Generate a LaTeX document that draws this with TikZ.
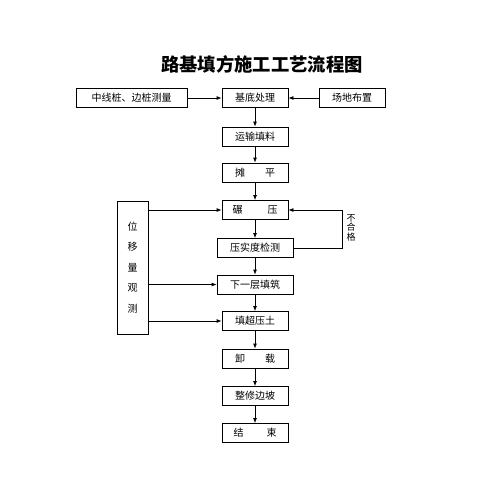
\documentclass[tikz,border=0pt]{standalone}
\usepackage{fontspec}
\setmainfont{Noto Sans CJK SC}
\usetikzlibrary{arrows.meta,positioning}
\tikzset{
    stepbox/.style={draw, line width=0.8pt, minimum width=66pt, minimum height=19pt,
        inner sep=0pt, font=\fontsize{10}{12}\selectfont},
    widebox/.style={stepbox, minimum width=76pt},
    flow/.style={-{Latex[length=5pt, width=4pt]}, line width=0.8pt}
}

\begin{document}
\begin{tikzpicture}[x=1pt, y=-1pt]
        \useasboundingbox (0,0) rectangle (500,500);

        % Title
        \node[font=\fontsize{18.3}{20}\selectfont\bfseries] (title) at (262,64) {路基填方施工工艺流程图};

        % Top row
        \node[stepbox, minimum width=111pt] (survey) at (131.5,98) {中线桩、边桩测量};
        \node[stepbox] (base) at (255,98) {基底处理};
        \node[stepbox] (site) at (352,98) {场地布置};

        % Main column
        \node[stepbox] (haul) at (255,136.5) {运输填料};
        \node[stepbox] (spread) at (255,172.5) {摊\hspace{20pt}平};
        \node[stepbox] (roll) at (255,210) {碾\hspace{25pt}压};
        \node[widebox] (check) at (255,248) {压实度检测};
        \node[widebox] (next) at (255,284.5) {下一层填筑};
        \node[stepbox] (surcharge) at (255,321) {填超压土};
        \node[stepbox] (unload) at (255,358.5) {卸\hspace{20pt}载};
        \node[stepbox] (trim) at (255,396) {整修边坡};
        \node[stepbox] (finish) at (255,433) {结\hspace{23pt}束};

        % Displacement monitoring
        \node[draw, line width=0.8pt, minimum width=31pt, minimum height=133pt, inner sep=0pt,
            align=center, font=\fontsize{10}{20.5}\selectfont] (monitor) at (132.5,267.5)
            {位\\移\\量\\观\\测};

        % Connectors
        \draw[flow] (survey) -- (base);
        \draw[flow] (site) -- (base);
        \foreach \a/\b in {base/haul, haul/spread, spread/roll, roll/check, check/next,
            next/surcharge, surcharge/unload, unload/trim, trim/finish} {
            \draw[flow] (\a) -- (\b);
        }
        \foreach \t in {roll, next, surcharge} {
            \draw[flow] (monitor.east |- \t) -- (\t);
        }

        % Re-compaction loop
        \coordinate (loop) at (342,248);
        \draw[flow] (check.east) -- (loop) |- (roll.east);
        \node[align=center, inner sep=0pt, font=\fontsize{9}{9.5}\selectfont] (fail) at (351,227.5) {不\\合\\格};
    \end{tikzpicture}
\end{document}
